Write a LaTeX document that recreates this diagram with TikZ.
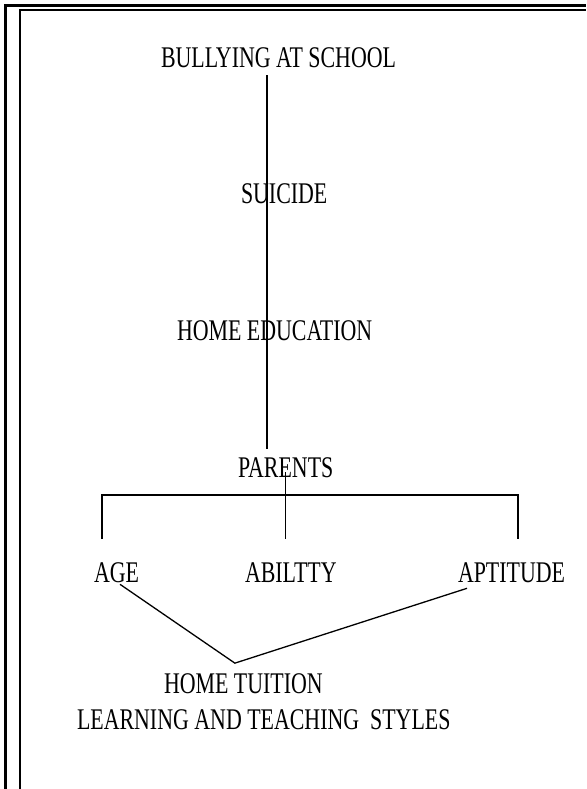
\documentclass[tikz,border=0pt]{standalone}
\usepackage{fontspec}
\setmainfont{Liberation Serif}[FakeStretch=0.73]
\begin{document}
\begin{tikzpicture}[x=1pt, y=-1pt,
    every node/.style={font=\fontsize{30}{36}\selectfont, inner sep=0pt, outer sep=0pt, anchor=base west},
    link/.style={black, line width=1.3pt}]
  \useasboundingbox (0,0) rectangle (586,789);
  % Double frame (open at right and bottom)
  \draw[line width=3.5pt] (5.5,789) -- (5.5,5.3) -- (586,5.3);
  \draw[line width=2pt] (20,789) -- (20,10.3) -- (586,10.3);
  % Chain of topics
  \node (bully) at (161,68) {BULLYING AT SCHOOL};
  \node (suicide) at (241,203) {SUICIDE};
  \node (homeed) at (177,340) {HOME EDUCATION};
  \node (parents) at (238,477) {PARENTS};
  % Three factors
  \node (age) at (94,582) {AGE};
  \node (abil) at (245,582) {ABILTTY};
  \node (apt) at (458,582) {APTITUDE};
  % Outcome
  \node (tuition) at (164,693) {HOME TUITION};
  \node (styles) at (77,729) {LEARNING AND TEACHING~~STYLES};
  % Trunk down to parents
  \coordinate (trunk) at (267,0);
  \draw[link, shorten <=7pt, shorten >=8pt] (bully.south -| trunk) -- (parents.north -| trunk);
  % Bracket to the factors
  \draw[link, shorten <=-5pt, shorten >=23pt] (parents.south) -- (parents.south |- abil.north);
  \draw[link] ([xshift=-14.5pt,yshift=23pt]age.north) -- ++(0,-44) -| ([xshift=6.5pt,yshift=23pt]apt.north);
  % Factors meet in home tuition
  \coordinate (meet) at ([xshift=-8.5pt,yshift=10pt]tuition.north);
  \draw[link] ([xshift=3.5pt,yshift=-2pt]age.south) -- (meet) -- ([xshift=-44.5pt,yshift=-6pt]apt.south);
\end{tikzpicture}
\end{document}
